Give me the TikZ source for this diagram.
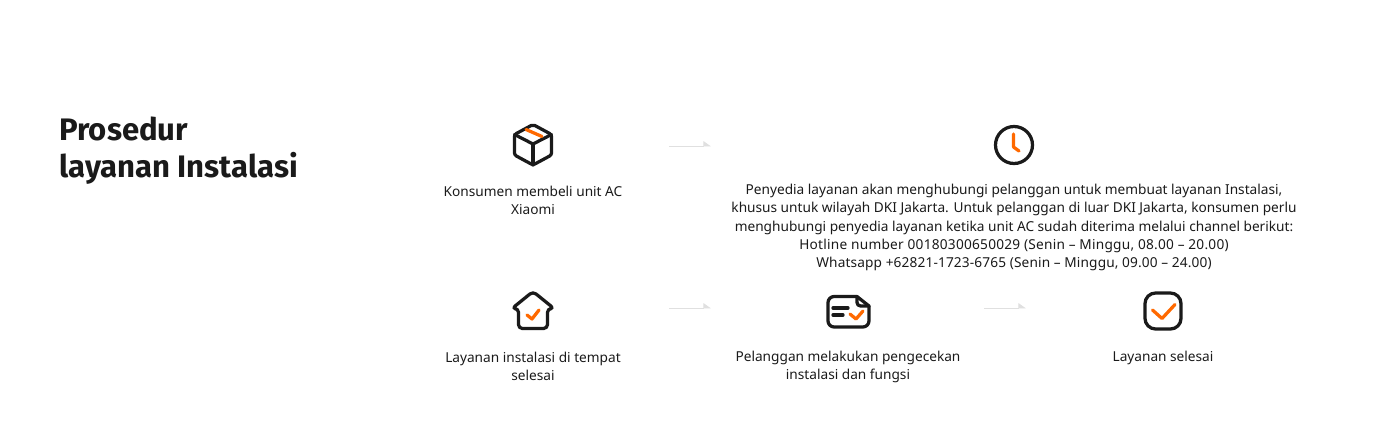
\documentclass[tikz,border=0pt]{standalone}
\usepackage{fontspec}
\setmainfont{Noto Sans}
\newfontfamily\titlefont{Fira Sans}
\usetikzlibrary{arrows.meta}
\definecolor{inkblack}{HTML}{1A1A1A}
\definecolor{markorange}{HTML}{FF6900}
\definecolor{arrowgray}{HTML}{E0E0E0}
\tikzset{
  iconline/.style={draw=inkblack,line width=1.85pt,line join=round,line cap=round},
  iconmark/.style={draw=markorange,line width=1.85pt,line join=round,line cap=round},
  steptext/.style={align=center,text=inkblack,font=\fontsize{7.78}{10.3}\selectfont,inner sep=0pt},
  titletext/.style={align=left,anchor=north west,text=inkblack,inner sep=0pt,font=\titlefont\fontsize{17.7}{21}\selectfont\bfseries},
  flowarrow/.style={draw=arrowgray,line width=0.5pt,-{Triangle[left,length=4pt,width=5.6pt,fill=arrowgray]}}
}
\begin{document}
\begin{tikzpicture}[x=0.02cm,y=-0.02cm]
\useasboundingbox (0,0) rectangle (1400,427);

\node[titletext] (title) at (59,117) {Prosedur\\layanan Instalasi};

% box
\coordinate (boxicon) at (533,144);
\draw[iconline,rounded corners=1.2pt] (533,124.5) -- (551.5,134.5) -- (551.5,155) -- (533,165) -- (514.5,155) -- (514.5,134.5) -- cycle;
\draw[iconline] (514.5,134.5) -- (533,144) -- (551.5,134.5);
\draw[iconline] (533,144) -- (533,165);
\draw[iconmark] (526,129.5) -- (542,136.5);
\node[steptext] (buy) at (533,200.5) {Konsumen membeli unit AC\\Xiaomi};

% clock
\coordinate (clockicon) at (1014,145);
\draw[iconline] (clockicon) circle (18.5);
\draw[iconmark] (1013.5,134) -- (1013.5,147) -- (1019,151);
\node[steptext] (call) at (1014,227.5) {Penyedia layanan akan menghubungi pelanggan untuk membuat layanan Instalasi,\\
khusus untuk wilayah DKI Jakarta. Untuk pelanggan di luar DKI Jakarta, konsumen perlu\\
menghubungi penyedia layanan ketika unit AC sudah diterima melalui channel berikut:\\
{\addfontfeature{LetterSpace=1.8}Hotline number 00180300650029 (Senin – Minggu, 08.00 – 20.00)}\\
{\addfontfeature{LetterSpace=1}Whatsapp +62821-1723-6765 (Senin – Minggu, 09.00 – 24.00)}};

% house
\coordinate (houseicon) at (533,310);
\draw[iconline,rounded corners=2.2pt] (533,291.5) -- (554,308.5) -- (547.5,308.5) -- (547.5,328.5) -- (518.5,328.5) -- (518.5,308.5) -- (512,308.5) -- cycle;
\draw[iconmark] (527,315) -- (532,319) -- (539,310);
\node[steptext] (done) at (533,366.5) {Layanan instalasi di tempat\\selesai};

% paper
\coordinate (papericon) at (848,311);
\draw[iconline,rounded corners=3.5pt] (857,296.5) -- (828,296.5) -- (828,327) -- (869,327) -- (869,306);
\draw[iconline] (857,296.5) -- (869,306);
\draw[iconline,rounded corners=2pt] (857,296.5) -- (857,306) -- (869,306);
\draw[iconline] (833,308) -- (848,308);
\draw[iconline] (833,315) -- (843,315);
\draw[iconmark] (850,314) -- (856,319) -- (863,311);
\node[steptext] (check) at (848,366.5) {Pelanggan melakukan pengecekan\\instalasi dan fungsi};

% tick
\coordinate (tickicon) at (1163,311);
\draw[iconline,rounded corners=6pt] (1145,293) rectangle (1181,329);
\draw[iconmark] (1152.5,310) -- (1162,318.5) -- (1175,304.5);
\node[steptext] (end) at (1163,357.5) {Layanan selesai};

% arrows
\coordinate (a1) at (669,146);
\coordinate (a2) at (711,146);
\coordinate (b1) at (669,308);
\coordinate (b2) at (711,308);
\coordinate (c1) at (984,308);
\coordinate (c2) at (1026,308);
\draw[flowarrow] (a1) -- (a2);
\draw[flowarrow] (b1) -- (b2);
\draw[flowarrow] (c1) -- (c2);
\end{tikzpicture}
\end{document}
